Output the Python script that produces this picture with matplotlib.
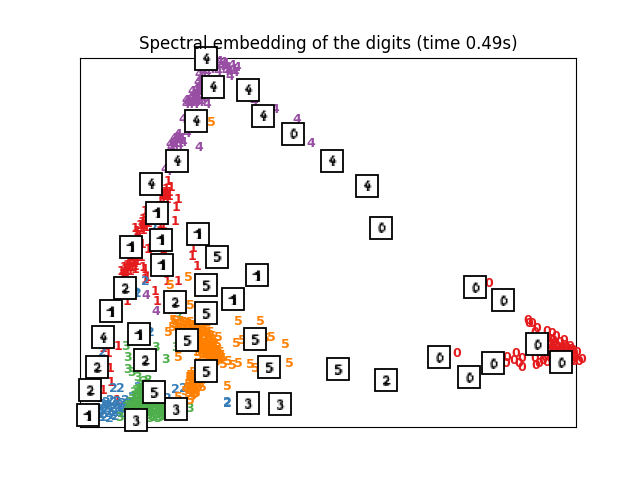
import numpy as np
import matplotlib
matplotlib.use('Agg')
import matplotlib.pyplot as plt
from matplotlib.offsetbox import AnnotationBbox, OffsetImage

# embedded points (centre of each label)
pts_0 = [(489, 284), (457, 353), (528, 320), (529, 323), (532, 323), (537, 328), (535, 332), (547, 331), (552, 333),
         (556, 336), (564, 340), (577, 352), (582, 359), (579, 361), (507, 357), (506, 363), (516, 353), (514, 360),
         (522, 358), (519, 363), (522, 367), (535, 358), (539, 363), (536, 365), (547, 362), (542, 352), (540, 345),
         (553, 340), (556, 345), (560, 342), (565, 345), (570, 346), (573, 350), (555, 350), (560, 350), (565, 350),
         (570, 352), (574, 356), (550, 345), (548, 352), (552, 356), (557, 355), (545, 357), (572, 360), (575, 358),
         (551, 339), (554, 343), (558, 347), (562, 347), (567, 348), (571, 349), (552, 347), (556, 352), (561, 353),
         (566, 354), (570, 356), (574, 353), (549, 349), (553, 353), (547, 355), (551, 359), (543, 360), (574, 361)]
pts_1 = [(168, 182), (169, 193), (165, 197), (167, 195), (163, 200), (178, 200), (176, 208), (175, 222), (145, 212),
         (147, 218), (142, 223), (146, 228), (137, 232), (141, 229), (144, 226), (148, 224), (139, 236), (148, 250),
         (163, 250), (151, 249), (134, 254), (130, 258), (136, 258), (141, 258), (130, 263), (134, 264), (125, 270),
         (128, 268), (135, 267), (125, 273), (122, 278), (143, 268), (147, 278), (127, 302), (167, 282), (178, 282),
         (155, 292), (157, 302), (193, 249), (192, 257), (197, 267), (145, 280), (118, 346), (110, 368), (111, 382),
         (103, 390), (117, 400), (103, 348), (108, 353), (135, 270), (145, 270), (165, 222),
         (166, 190), (169, 197), (165, 193), (162, 196), (167, 200), (160, 225), (163, 226), (143, 220), (146, 222),
         (149, 220), (140, 226), (143, 231), (136, 235), (135, 229), (132, 258), (128, 262), (132, 268), (130, 272),
         (127, 266), (133, 261), (137, 262), (123, 275), (127, 272), (121, 272), (124, 268), (138, 255), (139, 249),
         (142, 245), (164, 195), (171, 188), (160, 200), (159, 222)]
pts_2 = [(145, 282), (135, 293), (137, 294), (150, 332), (102, 352), (113, 388), (120, 388), (113, 402), (122, 403),
         (138, 387), (132, 397), (175, 389), (183, 388), (167, 398), (227, 403), (227, 402), (153, 229), (101, 405),
         (104, 410), (108, 405), (112, 408), (116, 405), (100, 413), (104, 417), (108, 413), (112, 415), (118, 410),
         (122, 408), (96, 408), (128, 403),
         (99, 409), (102, 414), (106, 408), (110, 411), (114, 412), (117, 401), (120, 405), (98, 417), (103, 404),
         (106, 402), (110, 400), (125, 400), (109, 418), (115, 416), (121, 413), (125, 408), (130, 405)]
pts_3 = [(126, 346), (128, 357), (165, 359), (127, 369), (131, 372), (138, 377), (148, 380), (155, 347), (177, 317),
         (175, 347), (190, 408), (159, 417), (120, 417), (136, 390), (141, 385), (134, 396), (139, 394), (144, 390),
         (148, 395), (130, 402), (135, 402), (140, 400), (145, 402), (150, 405), (155, 404), (160, 402), (133, 408),
         (138, 407), (143, 408), (148, 410), (153, 411), (158, 410), (163, 408), (126, 407), (130, 413), (147, 415),
         (152, 416), (163, 414), (166, 410), (169, 407),
         (132, 399), (136, 398), (138, 401), (142, 397), (146, 398), (150, 400), (153, 407), (157, 406), (161, 405),
         (128, 405), (131, 409), (135, 405), (140, 404), (145, 406), (150, 412), (155, 414), (160, 413), (165, 405),
         (141, 392), (138, 389), (143, 381), (134, 392), (129, 410), (145, 412), (157, 418), (150, 418),
         (137, 395), (140, 398), (144, 400), (148, 403), (152, 403), (156, 402), (133, 404), (137, 404), (142, 402),
         (147, 407), (151, 409), (155, 408), (159, 408), (163, 411), (167, 412), (136, 411), (141, 411), (146, 413),
         (135, 414), (139, 385), (143, 386), (146, 385), (145, 394), (132, 414), (154, 417), (161, 416)]
pts_4 = [(223, 63), (227, 68), (233, 70), (237, 68), (230, 77), (226, 72), (221, 67), (215, 64), (211, 70), (218, 72),
         (203, 72), (199, 75), (198, 83), (200, 80), (204, 88), (192, 92), (195, 97), (199, 92), (188, 103), (192, 103),
         (197, 102), (186, 105), (207, 105), (183, 120), (187, 134), (177, 138), (179, 142), (173, 143), (170, 145),
         (175, 146), (183, 143), (199, 148), (165, 170), (254, 102), (275, 110), (297, 120), (311, 144), (146, 296),
         (156, 311), (168, 172),
         (215, 60), (212, 62), (219, 62), (222, 67), (225, 64), (229, 72), (232, 66), (235, 73), (215, 68), (207, 73),
         (203, 77), (205, 81), (201, 85), (199, 88), (196, 90), (202, 92), (194, 95), (197, 97), (200, 98), (191, 98),
         (188, 101), (194, 101), (190, 105), (186, 101), (195, 105), (200, 103), (203, 100), (175, 141), (178, 135),
         (171, 148), (179, 146), (181, 139), (174, 139)]
pts_5 = [(238, 321), (260, 321), (168, 332), (218, 337), (236, 343), (242, 340), (271, 337), (285, 344), (178, 357),
         (228, 361), (238, 363), (232, 365), (250, 364), (255, 368), (289, 363), (227, 386), (223, 364), (190, 375),
         (202, 387), (192, 390), (190, 400), (178, 397), (173, 320), (190, 305), (188, 278), (170, 286), (211, 123),
         (265, 338), (176, 324), (180, 321), (185, 323), (190, 322), (195, 326), (200, 324), (205, 329), (210, 332),
         (178, 328), (183, 329), (188, 329), (193, 331), (198, 334), (203, 336), (208, 338), (198, 340), (203, 343),
         (208, 344), (213, 343), (200, 347), (205, 350), (210, 351), (215, 350), (220, 352), (203, 354), (208, 357),
         (213, 356), (218, 358), (216, 362), (197, 352), (194, 375), (190, 380), (196, 384), (191, 385), (194, 394),
         (188, 393), (187, 388), (199, 380), (182, 403),
         (172, 327), (175, 321), (182, 325), (187, 326), (192, 325), (197, 329), (202, 328), (207, 333), (212, 336),
         (201, 332), (199, 337), (204, 340), (209, 341), (214, 340), (201, 344), (206, 347), (211, 347), (216, 347),
         (201, 350), (206, 353), (211, 354), (216, 353), (221, 355), (205, 357), (210, 359), (215, 359), (220, 359),
         (198, 346), (198, 356), (192, 380), (194, 386), (197, 378), (188, 384), (191, 393), (196, 390), (185, 391),
         (193, 372), (189, 377),
         (174, 324), (178, 324), (183, 322), (188, 324), (193, 328), (198, 327), (203, 331), (207, 330), (211, 339),
         (205, 336), (200, 342), (204, 345), (208, 349), (212, 349), (217, 344), (214, 346), (202, 348), (207, 351),
         (213, 352), (218, 350), (203, 352), (205, 359), (209, 355), (214, 356), (219, 356), (222, 358), (212, 361),
         (191, 377), (195, 381), (198, 387), (193, 388), (189, 381), (192, 396), (189, 390), (196, 393), (200, 384)]

digits_0 = [475, 503, 439, 469, 493, 537, 561, 293, 381]
digits_0y = [287, 300, 357, 377, 363, 344, 362, 134, 228]
digits_1 = [157, 161, 198, 131, 162, 257, 233, 139, 88, 111]
digits_1y = [213, 240, 234, 247, 265, 275, 299, 334, 415, 311]
digits_2 = [125, 175, 145, 386, 97, 90]
digits_2y = [288, 302, 360, 380, 367, 390]
digits_3 = [136, 176, 248, 280]
digits_3y = [420, 409, 403, 404]
digits_4 = [206, 213, 248, 263, 196, 332, 367, 177, 151, 103]
digits_4y = [59, 87, 90, 116, 121, 161, 186, 161, 184, 337]
digits_5 = [217, 206, 206, 187, 255, 206, 269, 338, 154]
digits_5y = [257, 285, 313, 340, 339, 371, 367, 369, 392]

# 8x8 thumbnails, one hex digit per pixel
img_0 = ["00000000", "0006f800", "000ee900", "006d07f0", "008c00f0", "006d05f0", "005fcc60", "0008f300"]
img_1 = ["00000000", "0000fd00", "004ffd00", "0defff00", "0000ff00", "0000ff00", "0000ff00", "0005ff00"]
img_2 = ["00000000", "005ff800", "00d86f00", "00002f40", "0000ed00", "003fd000", "00fffff0", "005cc800"]
img_3 = ["00000000", "005ff700", "00a37f00", "0004f900", "0004af00", "00002f50", "00c38f30", "007fe500"]
img_4 = ["00000000", "0001f800", "0009e000", "004f3f00", "00df8f60", "003cff60", "0000f600", "0002f800"]
img_5 = ["00000000", "00cfff50", "00f82000", "00ffe400", "00424f80", "00000fb0", "00c48f60", "00cfe600"]
digit_imgs = {0: img_0, 1: img_1, 2: img_2, 3: img_3, 4: img_4, 5: img_5}

plt.figure(figsize=(6.4, 4.8))
ax = plt.subplot(111)

for digit, pts in enumerate([pts_0, pts_1, pts_2, pts_3, pts_4, pts_5]):
    for x, y in pts:
        plt.text(x, y, str(digit), color=plt.cm.Set1(digit / 10.), ha='center', va='center',
                 fontdict={'weight': 'bold', 'size': 9})

all_boxes = [(0, digits_0, digits_0y), (1, digits_1, digits_1y), (2, digits_2, digits_2y),
             (3, digits_3, digits_3y), (4, digits_4, digits_4y), (5, digits_5, digits_5y)]
for digit, xs, ys in all_boxes:
    img = np.array([[int(c, 16) for c in row] for row in digit_imgs[digit]])
    for x, y in zip(xs, ys):
        box = AnnotationBbox(OffsetImage(img, cmap=plt.cm.gray_r), (x, y),
                             bboxprops={'linewidth': 1.3})
        ax.add_artist(box)

plt.xlim(80, 576)
plt.ylim(427, 58)
plt.xticks([])
plt.yticks([])
plt.title('Spectral embedding of the digits (time 0.49s)')
plt.savefig('out.png', dpi=100)
